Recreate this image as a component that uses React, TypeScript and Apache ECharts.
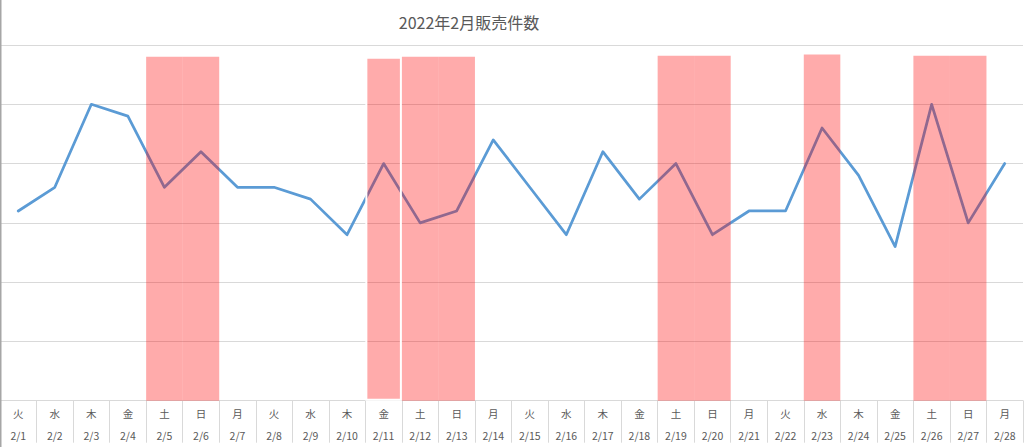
import React, { useEffect, useRef } from "react";
import * as echarts from "echarts";

const dates = ["2/1","2/2","2/3","2/4","2/5","2/6","2/7","2/8","2/9","2/10","2/11","2/12","2/13","2/14","2/15","2/16","2/17","2/18","2/19","2/20","2/21","2/22","2/23","2/24","2/25","2/26","2/27","2/28"];
const weekdays = ["火","水","木","金","土","日","月","火","水","木","金","土","日","月","火","水","木","金","土","日","月","火","水","木","金","土","日","月"];
const sales = [16,18,25,24,18,21,18,18,17,14,20,15,16,22,18,14,21,17,20,14,16,16,23,19,13,25,15,20];
// holiday / weekend highlight heights (null = no highlight)
const holidays: (number | null)[] = [null,null,null,null,29,29,null,null,null,null,29,29,29,null,null,null,null,null,29.1,29.1,null,null,29.2,null,null,29.1,29.1,null];
const separatedHoliday = "2/11";

export default function App() {
  const ref = useRef<HTMLDivElement>(null);
  useEffect(() => {
    document.body.style.margin = "0";
    if (!ref.current) return;
    const chart = echarts.init(ref.current, undefined, { renderer: "svg" });
    const font = "'Noto Sans CJK JP', 'Noto Sans', sans-serif";
    chart.setOption({
      animation: false,
      backgroundColor: "#ffffff",
      title: {
        text: "2022年2月販売件数",
        left: 464,
        textAlign: "center",
        top: 9,
        textStyle: { fontFamily: font, fontSize: 16, fontWeight: "normal", color: "#595959" },
      },
      grid: { left: -1.8, right: 1, top: 45, bottom: 46.3 },
      xAxis: {
        type: "category",
        data: dates,
        boundaryGap: true,
        axisLine: { show: true, lineStyle: { color: "#d9d9d9", width: 1 } },
        axisTick: { show: true, interval: 0, length: 42, lineStyle: { color: "#d9d9d9", width: 1 } },
        axisLabel: {
          interval: 0,
          margin: 2,
          formatter: (v: string, i: number) => `{w|${weekdays[i]}}\n{d|${v}}`,
          rich: {
            w: { fontFamily: font, fontSize: 10.5, color: "#595959", lineHeight: 22 },
            d: { fontFamily: font, fontSize: 10.5, color: "#595959", lineHeight: 22 },
          },
        },
        splitLine: { show: false },
      },
      yAxis: {
        type: "value",
        min: 0,
        max: 30,
        interval: 5,
        axisLabel: { show: false },
        axisLine: { show: false },
        axisTick: { show: false },
        splitLine: { show: true, lineStyle: { color: "#d9d9d9", width: 1 } },
      },
      series: [
        {
          type: "line",
          data: sales,
          symbol: "none",
          lineStyle: { color: "#5B9BD5", width: 2.75, join: "round", cap: "round" },
          z: 2,
        },
        {
          type: "bar",
          data: holidays.map((v, i) =>
            v == null
              ? "-"
              : dates[i] === separatedHoliday
              ? { value: v, itemStyle: { borderColor: "#ffffff", borderWidth: 2 } }
              : v
          ),
          barWidth: "100%",
          barCategoryGap: "0%",
          itemStyle: { color: "rgba(255,0,0,0.33)" },
          z: 3,
        },
      ],
      graphic: [
        { type: "rect", shape: { x: 0, y: 0, width: 1.5, height: 447 }, style: { fill: "#a6a6a6" }, z: 10 },
      ],
    });
    return () => chart.dispose();
  }, []);
  return <div ref={ref} style={{ width: 1024, height: 447 }} />;
}
